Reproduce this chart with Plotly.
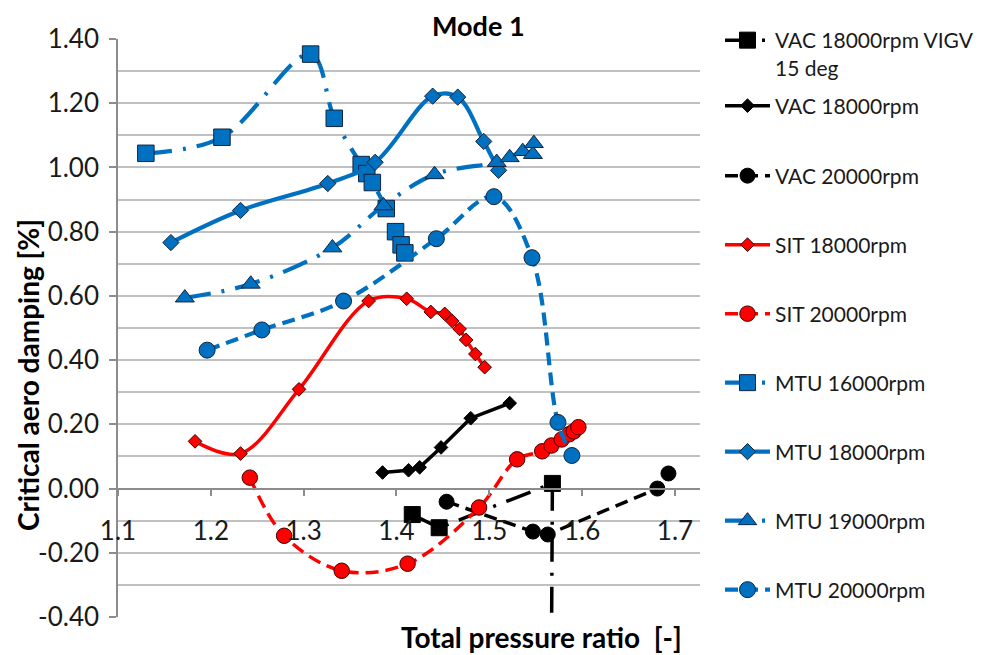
import plotly.graph_objects as go

# ---------------- data ----------------
vigv_x = [1.417, 1.446, 1.568, 1.566]
vigv_y = [-0.081, -0.122, 0.016, -1.00]

vac18_x = [1.385, 1.413, 1.425, 1.448, 1.480, 1.522]
vac18_y = [0.050, 0.057, 0.066, 0.128, 0.219, 0.266]

vac20_x = [1.454, 1.547, 1.563, 1.681, 1.693]
vac20_y = [-0.041, -0.134, -0.143, 0.000, 0.047]

sit18_x = [1.183, 1.232, 1.295, 1.370, 1.411, 1.437, 1.452, 1.460, 1.468, 1.475, 1.485, 1.495]
sit18_y = [0.147, 0.109, 0.309, 0.584, 0.591, 0.550, 0.544, 0.522, 0.497, 0.463, 0.419, 0.378]

sit20_x = [1.242, 1.279, 1.341, 1.412, 1.489, 1.530, 1.557, 1.567, 1.578, 1.586, 1.591, 1.596]
sit20_y = [0.034, -0.147, -0.256, -0.234, -0.059, 0.091, 0.116, 0.134, 0.153, 0.169, 0.178, 0.191]

mtu16_x = [1.130, 1.212, 1.3075, 1.333, 1.362, 1.368, 1.374, 1.389, 1.399, 1.405, 1.409]
mtu16_y = [1.044, 1.094, 1.353, 1.153, 1.009, 0.981, 0.953, 0.872, 0.800, 0.759, 0.734]

mtu18_x = [1.157, 1.232, 1.326, 1.377, 1.439, 1.466, 1.494, 1.510]
mtu18_y = [0.766, 0.866, 0.950, 1.016, 1.222, 1.219, 1.081, 0.991]

mtu19_x = [1.172, 1.243, 1.331, 1.386, 1.441, 1.508, 1.522, 1.536, 1.547, 1.548]
mtu19_y = [0.594, 0.637, 0.750, 0.881, 0.978, 1.016, 1.031, 1.050, 1.041, 1.075]

mtu20_x = [1.196, 1.255, 1.343, 1.443, 1.505, 1.546, 1.574, 1.589]
mtu20_y = [0.431, 0.494, 0.584, 0.778, 0.909, 0.719, 0.206, 0.103]

x_ticks = [1.1, 1.2, 1.3, 1.4, 1.5, 1.6, 1.7]
x_tick_text = ["1.1", "1.2", "1.3", "1.4", "1.5", "1.6", "1.7"]
y_ticks = [-0.4, -0.2, 0.0, 0.2, 0.4, 0.6, 0.8, 1.0, 1.2, 1.4]
y_tick_text = ["-0.40", "-0.20", "0.00", "0.20", "0.40", "0.60", "0.80", "1.00", "1.20", "1.40"]
y_minor = [-0.3, -0.1, 0.1, 0.3, 0.5, 0.7, 0.9, 1.1, 1.3]

names = ["VAC 18000rpm VIGV<br>15 deg", "VAC 18000rpm", "VAC 20000rpm", "SIT 18000rpm",
         "SIT 20000rpm", "MTU 16000rpm", "MTU 18000rpm", "MTU 19000rpm", "MTU 20000rpm"]

# ---------------- styles ----------------
BLUE = "#0070C0"
RED = "#FF0000"
BLACK = "#000000"
FONT = "Lato"
LDD = "26px,11px,3px,11px"
DASH = "13px,7px"

series = [
    (vigv_x, vigv_y, BLACK, LDD, "square", 16, "linear", 3.5, BLACK),
    (vac18_x, vac18_y, BLACK, "solid", "diamond", 10.5, "linear", 3.5, BLACK),
    (vac20_x, vac20_y, BLACK, DASH, "circle", 15, "linear", 3.5, BLACK),
    (sit18_x, sit18_y, RED, "solid", "diamond", 10.5, "spline", 3.5, "#400000"),
    (sit20_x, sit20_y, RED, DASH, "circle", 15.5, "spline", 3.5, "#400000"),
    (mtu16_x, mtu16_y, BLUE, LDD, "square", 16.5, "spline", 4.2, "#10243f"),
    (mtu18_x, mtu18_y, BLUE, "solid", "diamond", 12.5, "spline", 4.2, "#10243f"),
    (mtu19_x, mtu19_y, BLUE, LDD, "triangle-up", 16.5, "spline", 4.2, "#10243f"),
    (mtu20_x, mtu20_y, BLUE, DASH, "circle", 16, "spline", 4.2, "#10243f"),
]

fig = go.Figure()
legend_ids = ["legend"] + ["legend%d" % i for i in range(2, 10)]
for i, (xs, ys, col, dash, sym, size, shape, lw, edge) in enumerate(series):
    fig.add_trace(go.Scatter(
        x=xs, y=ys, name=names[i], mode="lines+markers",
        line=dict(color=col, width=lw, dash=dash, shape=shape, smoothing=1.0),
        marker=dict(symbol=sym, size=size, color=col, line=dict(color=edge, width=1)),
        legend=legend_ids[i],
    ))

# page offset (browser body margin) and plot area in reference pixels
OFF = 8
L, R, T, B = 118, 700, 39, 617
W, H = 1030, 655          # wider canvas so the legends never squeeze the plot area
PW, PH = R - L, B - T

def px_x(px):
    return (px - L) / PW

def px_y(py):
    return (B - py) / PH

legend_centers = [54, 106, 176, 245, 314, 383, 452, 521, 590]
layout_legends = {}
for i, lid in enumerate(legend_ids):
    layout_legends[lid] = dict(
        x=px_x(720), y=px_y(legend_centers[i]), xanchor="left", yanchor="middle",
        bgcolor="rgba(0,0,0,0)", borderwidth=0, itemwidth=45, valign="top",
        font=dict(family=FONT, size=21, color="#1a1a1a"),
    )

GRID = "#c0c0c0"
AX = "#8c8c8c"
fig.update_layout(
    width=W, height=H,
    margin=dict(l=L - OFF, r=W - (R - OFF), t=T - OFF, b=H - (B - OFF)),
    paper_bgcolor="white", plot_bgcolor="white",
    showlegend=True,
    xaxis=dict(range=[1.1, 1.727], tickmode="array", tickvals=x_ticks, ticktext=x_tick_text,
               anchor="free", position=0.4 / 1.8, showgrid=False, zeroline=False,
               showline=True, linecolor=AX, linewidth=1.5,
               ticks="outside", ticklen=7, tickcolor=AX, tickwidth=1.5,
               ticklabelstandoff=12,
               tickfont=dict(family=FONT, size=26, color="#1a1a1a")),
    yaxis=dict(range=[-0.4, 1.4], tickmode="array", tickvals=y_ticks, ticktext=y_tick_text,
               showgrid=True, gridcolor=GRID, gridwidth=1.5, zeroline=False,
               showline=True, linecolor=AX, linewidth=1.5,
               ticks="outside", ticklen=7, tickcolor=AX, tickwidth=1.5,
               ticklabelstandoff=5,
               tickfont=dict(family=FONT, size=26, color="#1a1a1a")),
    annotations=[
        dict(text="<b>Mode 1</b>", xref="paper", yref="paper",
             x=px_x(478), y=px_y(25), xanchor="center", yanchor="middle", showarrow=False,
             font=dict(family=FONT, size=27, color="#000")),
        dict(text="<b>Total pressure ratio  [-]</b>", xref="paper", yref="paper",
             x=px_x(541), y=px_y(637), xanchor="center", yanchor="middle", showarrow=False,
             font=dict(family=FONT, size=28, color="#000")),
        dict(text="<b>Critical aero damping [%]</b>", xref="paper", yref="paper",
             x=px_x(28), y=px_y(375), xanchor="center", yanchor="middle", showarrow=False,
             textangle=-90, font=dict(family=FONT, size=28, color="#000")),
    ],
    **layout_legends,
)
fig.update_yaxes(minor=dict(tickmode="array", tickvals=y_minor, showgrid=True,
                            gridcolor=GRID, gridwidth=1.5, ticks=""))

fig.write_html("out.html")
